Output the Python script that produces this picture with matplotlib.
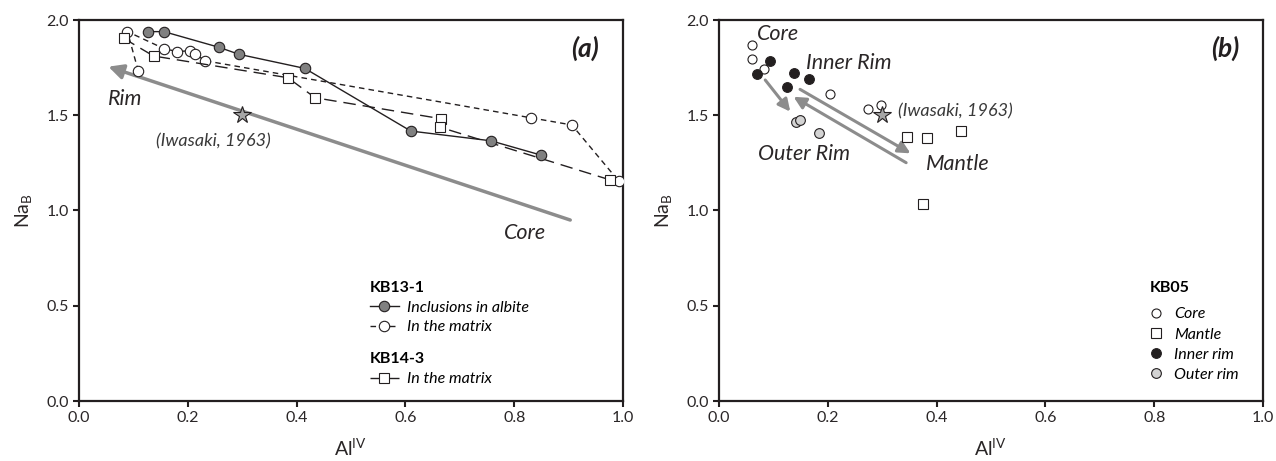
import matplotlib.pyplot as plt

plt.rcParams['font.family'] = ['Lato', 'DejaVu Sans']
plt.rcParams['mathtext.fontset'] = 'custom'
plt.rcParams['mathtext.rm'] = 'Lato'

# (a) KB13-1 inclusions in albite
inc_x = [0.126, 0.156, 0.257, 0.294, 0.415, 0.610, 0.757, 0.849]
inc_y = [1.939, 1.939, 1.857, 1.820, 1.746, 1.417, 1.366, 1.291]
# (a) KB13-1 in the matrix
mat_x = [0.109, 0.089, 0.156, 0.181, 0.204, 0.213, 0.232, 0.830, 0.906, 0.992]
mat_y = [1.732, 1.939, 1.850, 1.834, 1.839, 1.822, 1.786, 1.487, 1.449, 1.155]
# (a) KB14-3 in the matrix
sq_x = [0.082, 0.137, 0.384, 0.434, 0.665, 0.664, 0.977]
sq_y = [1.904, 1.811, 1.697, 1.592, 1.482, 1.437, 1.160]

# (b) KB05
core_x = [0.060, 0.061, 0.083, 0.204, 0.274, 0.298]
core_y = [1.869, 1.797, 1.741, 1.610, 1.531, 1.554]
mantle_x = [0.345, 0.383, 0.445, 0.375]
mantle_y = [1.387, 1.379, 1.419, 1.034]
inner_x = [0.069, 0.094, 0.137, 0.125, 0.165]
inner_y = [1.717, 1.787, 1.723, 1.647, 1.690]
outer_x = [0.141, 0.149, 0.183]
outer_y = [1.463, 1.473, 1.405]

# Iwasaki (1963)
iwa = (0.30, 1.50)

ink = '#231f20'
txt = '#2a2627'
arrow_c = '#8c8c8c'

fig = plt.figure(figsize=(12.76, 4.61), dpi=100)
axa = fig.add_axes([79/1276, 60/461, 544/1276, 381/461])
axb = fig.add_axes([719/1276, 60/461, 544/1276, 381/461])

for ax in (axa, axb):
    ax.set_xlim(0, 1)
    ax.set_ylim(0, 2)
    ax.set_xticks([0, 0.2, 0.4, 0.6, 0.8, 1.0])
    ax.set_yticks([0, 0.5, 1.0, 1.5, 2.0])
    ax.xaxis.set_major_formatter('{x:.1f}')
    ax.yaxis.set_major_formatter('{x:.1f}')
    ax.tick_params(direction='out', length=4, width=1.5, labelsize=11.5,
                   colors=ink, labelcolor=txt)
    for s in ax.spines.values():
        s.set_linewidth(1.6)
        s.set_color(ink)
    ax.set_xlabel(r'Al$^{\mathregular{IV}}$', fontsize=14, color=txt, labelpad=8)
    ax.set_ylabel(r'Na$_{\mathregular{B}}$', fontsize=14, color=txt, labelpad=8)

leg_kw = dict(loc='upper left', frameon=False,
              prop={'style': 'italic', 'size': 11.5},
              title_fontproperties={'weight': 'bold', 'size': 11.5},
              borderaxespad=0, borderpad=0)

# ---- panel (a)
axa.annotate('', xy=(0.054, 1.755), xytext=(0.903, 0.950),
             arrowprops=dict(arrowstyle='-|>', color=arrow_c, lw=2.5,
                             mutation_scale=22, shrinkA=0, shrinkB=0))
l1, = axa.plot(inc_x, inc_y, '-', color=ink, lw=1, marker='o', ms=7.5,
               mfc='#808080', mec=ink, mew=0.8, zorder=4)
l2, = axa.plot(mat_x, mat_y, color=ink, lw=1, ls=(0, (4, 3)), marker='o', ms=7.5,
               mfc='white', mec=ink, mew=0.8, zorder=3)
l3, = axa.plot(sq_x, sq_y, color=ink, lw=1, ls=(0, (9, 5)), marker='s', ms=7,
               mfc='white', mec=ink, mew=0.8, zorder=3)
axa.plot(*iwa, marker='*', ms=13, mfc='#a6a6a6', mec=ink, mew=0.8, ls='none', zorder=5)
axa.text(0.247, 1.361, '(Iwasaki, 1963)', style='italic', fontsize=13,
         color='#3a3a3a', ha='center', va='center')
axa.text(0.085, 1.585, 'Rim', style='italic', fontsize=15.5, color=txt,
         ha='center', va='center')
axa.text(0.82, 0.88, 'Core', style='italic', fontsize=15.5, color=txt,
         ha='center', va='center')
axa.text(0.93, 1.85, '(a)', style='italic', weight='bold', fontsize=19,
         color=ink, ha='center', va='center')

lega = axa.legend([l1, l2], ['Inclusions in albite', 'In the matrix'],
                  title='KB13-1', bbox_to_anchor=(0.535, 0.316),
                  handlelength=1.8, handletextpad=0.5, labelspacing=0.36, **leg_kw)
lega._legend_box.align = 'left'
axa.add_artist(lega)
legb = axa.legend([l3], ['In the matrix'],
                  title='KB14-3', bbox_to_anchor=(0.535, 0.128),
                  handlelength=1.8, handletextpad=0.5, labelspacing=0.36, **leg_kw)
legb._legend_box.align = 'left'

# ---- panel (b)
for (x0, y0), (x1, y1) in [((0.085, 1.685), (0.131, 1.519)),
                           ((0.344, 1.251), (0.137, 1.597)),
                           ((0.149, 1.636), (0.352, 1.300))]:
    axb.annotate('', xy=(x1, y1), xytext=(x0, y0),
                 arrowprops=dict(arrowstyle='-|>', color=arrow_c, lw=2.2,
                                 mutation_scale=18, shrinkA=0, shrinkB=0))
p1, = axb.plot(core_x, core_y, 'o', ms=6.5, mfc='white', mec=ink, mew=0.8, zorder=4)
p2, = axb.plot(mantle_x, mantle_y, 's', ms=6.5, mfc='white', mec=ink, mew=0.8, zorder=4)
p3, = axb.plot(inner_x, inner_y, 'o', ms=7, mfc=ink, mec=ink, mew=0.8, zorder=4)
p4, = axb.plot(outer_x, outer_y, 'o', ms=7, mfc='#d3d3d3', mec=ink, mew=0.8, zorder=4)
axb.plot(*iwa, marker='*', ms=13, mfc='#a6a6a6', mec=ink, mew=0.8, ls='none', zorder=5)
axb.text(0.329, 1.519, '(Iwasaki, 1963)', style='italic', fontsize=13,
         color='#3a3a3a', ha='left', va='center')
axb.text(0.070, 1.925, 'Core', style='italic', fontsize=15.5, color=txt,
         ha='left', va='center')
axb.text(0.160, 1.776, 'Inner Rim', style='italic', fontsize=15.5, color=txt,
         ha='left', va='center')
axb.text(0.156, 1.297, 'Outer Rim', style='italic', fontsize=15.5, color=txt,
         ha='center', va='center')
axb.text(0.438, 1.244, 'Mantle', style='italic', fontsize=15.5, color=txt,
         ha='center', va='center')
axb.text(0.93, 1.85, '(b)', style='italic', weight='bold', fontsize=19,
         color=ink, ha='center', va='center')

legc = axb.legend([p1, p2, p3, p4], ['Core', 'Mantle', 'Inner rim', 'Outer rim'],
                  title='KB05', bbox_to_anchor=(0.792, 0.316),
                  handlelength=0.8, handletextpad=0.7, labelspacing=0.38, **leg_kw)
legc._legend_box.align = 'left'
legc._legend_box.sep = 9

fig.savefig('out.png', dpi=100)
